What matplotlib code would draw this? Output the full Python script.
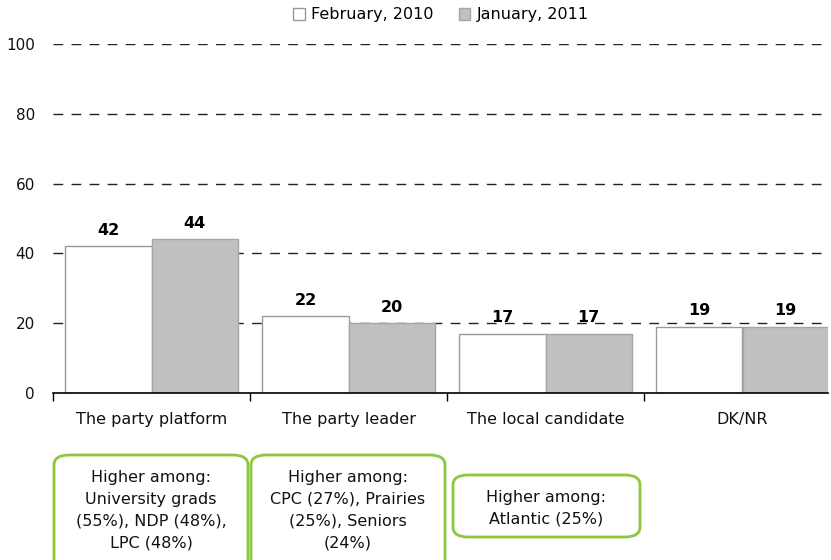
import numpy as np
import matplotlib.pyplot as plt
from matplotlib.patches import FancyBboxPatch

categories = ['The party platform', 'The party leader', 'The local candidate', 'DK/NR']
feb_2010 = [42, 22, 17, 19]
jan_2011 = [44, 20, 17, 19]
series_names = ['February, 2010', 'January, 2011']
notes = [
    'Higher among:\nUniversity grads\n(55%), NDP (48%),\nLPC (48%)',
    'Higher among:\nCPC (27%), Prairies\n(25%), Seniors\n(24%)',
    'Higher among:\nAtlantic (25%)',
]

plt.rcParams['font.family'] = ['DejaVu Sans']

fig = plt.figure(figsize=(8.31, 5.6), dpi=100)
W, H = 831, 560
ax = fig.add_axes([53 / W, 1 - 393 / H, (828 - 53) / W, (393 - 44) / H])

x = np.arange(len(categories))
bw = 0.437
b1 = ax.bar(x - bw / 2, feb_2010, bw, color='white', edgecolor='#999999', linewidth=1,
            label=series_names[0], zorder=2)
b2 = ax.bar(x + bw / 2, jan_2011, bw, color='#c0c0c0', edgecolor='#a6a6a6', linewidth=1,
            label=series_names[1], zorder=2)

for bars, vals in ((b1, feb_2010), (b2, jan_2011)):
    for r, v in zip(bars, vals):
        ax.text(r.get_x() + r.get_width() / 2, v + 2.4, str(v), ha='center', va='bottom',
                fontsize=11.5, fontweight='bold', color='black', zorder=4)

ax.set_xlim(-0.5, -0.5 + (828 - 53) / 197)
ax.set_ylim(0, 100)
ax.set_yticks([0, 20, 40, 60, 80, 100])
ax.tick_params(axis='y', length=0, pad=13, labelsize=11, labelcolor='#111111')

# dashed gridlines sit behind the bars
for yv in [20, 40, 60, 80, 100]:
    ax.axhline(yv, color='#222222', lw=1, ls=(0, (7, 6)), zorder=1)

ax.set_xticks([-0.5, 0.5, 1.5, 2.5])
ax.set_xticklabels([])
ax.tick_params(axis='x', length=6, width=1, direction='out', color='black')
for i, c in enumerate(categories):
    ax.text(i, -7.7, c, ha='center', va='center', fontsize=11.5, color='#111111')

for s in ['top', 'right', 'left']:
    ax.spines[s].set_visible(False)
ax.spines['bottom'].set_linewidth(1.2)

fig.legend(handles=[b1, b2], loc='center', bbox_to_anchor=(441 / W, 1 - 15 / H), ncol=2,
           frameon=False, fontsize=11.5, handlelength=0.7, handleheight=0.7,
           handletextpad=0.4, columnspacing=1.6)

# callout boxes under the categories
boxes = [(54, 455, 194, 120), (251, 455, 194, 120), (453, 475, 187, 62)]
text_top = [470, 470, 490]
for (bx, by, bwid, bh), txt, t in zip(boxes, notes, text_top):
    p = FancyBboxPatch((bx / W, 1 - (by + bh) / H), bwid / W, bh / H,
                       boxstyle='round,pad=0,rounding_size=0.018',
                       transform=fig.transFigure, facecolor='white',
                       edgecolor='#8dc63f', linewidth=2, clip_on=False)
    fig.add_artist(p)
    fig.text((bx + bwid / 2) / W, 1 - t / H, txt, ha='center', va='top',
             fontsize=11.5, color='#111111', linespacing=1.56, zorder=5)

fig.savefig('out.png', dpi=100)
